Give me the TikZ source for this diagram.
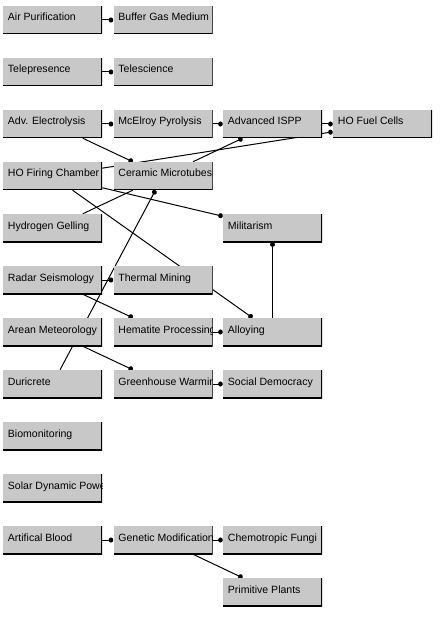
\documentclass[tikz,border=0pt]{standalone}
\usepackage{fontspec}
\newfontfamily\boxfont{Liberation Sans}
\usetikzlibrary{arrows.meta,backgrounds}
\definecolor{boxgray}{RGB}{200,200,200}
\newcommand{\bw}{74.25pt}
\newcommand{\bh}{21pt}

\begin{document}
\begin{tikzpicture}[x=0.75pt, y=-0.75pt,
  techbox/.style={rectangle, fill=boxgray, minimum width=\bw, minimum height=\bh, inner sep=0pt,
    path picture={
      \draw[line width=1.5pt] (path picture bounding box.north east) -- (path picture bounding box.south east) -- (path picture bounding box.south west);
      \node[anchor=base west, inner sep=0pt, minimum width=0pt, minimum height=0pt, fill=none, font=\boxfont\fontsize{7.9pt}{9pt}\selectfont] at ([xshift=3.5pt, yshift=-11.25pt]path picture bounding box.north west) {#1};
    }},
  link/.style={line width=0.75pt, -{Circle[length=3.4pt, width=3.8pt]}}]
    \useasboundingbox (0,0) rectangle (444,627);

    % First row
    \node[techbox={Air Purification}] (airpur) at (52.5,20) {};
    \node[techbox={Buffer Gas Medium}] (buffergas) at (163,20) {};

    \node[techbox={Telepresence}] (telepres) at (52.5,72) {};
    \node[techbox={Telescience}] (telesci) at (163,72) {};

    \node[techbox={Adv. Electrolysis}] (electro) at (52.5,124) {};
    \node[techbox={McElroy Pyrolysis}] (pyrolysis) at (163,124) {};
    \node[techbox={Advanced ISPP}] (ispp) at (272.5,124) {};
    \node[techbox={HO Fuel Cells}] (fuelcells) at (382.5,124) {};

    \node[techbox={HO Firing Chamber}] (firing) at (52.5,176) {};
    \node[techbox={Ceramic Microtubes}] (microtubes) at (163,176) {};

    \node[techbox={Hydrogen Gelling}] (gelling) at (52.5,228) {};
    \node[techbox={Militarism}] (militarism) at (272.5,228) {};

    \node[techbox={Radar Seismology}] (radar) at (52.5,280) {};
    \node[techbox={Thermal Mining}] (thermal) at (163,280) {};

    \node[techbox={Arean Meteorology}] (meteo) at (52.5,332) {};
    \node[techbox={Hematite Processing}] (hematite) at (163,332) {};
    \node[techbox={Alloying}] (alloying) at (272.5,332) {};

    \node[techbox={Duricrete}] (duricrete) at (52.5,384) {};
    \node[techbox={Greenhouse Warming}] (greenhouse) at (163,384) {};
    \node[techbox={Social Democracy}] (socdem) at (272.5,384) {};

    \node[techbox={Biomonitoring}] (biomon) at (52.5,436) {};

    \node[techbox={Solar Dynamic Power}] (solar) at (52.5,488) {};

    \node[techbox={Artifical Blood}] (blood) at (52.5,540) {};
    \node[techbox={Genetic Modification}] (genmod) at (163,540) {};
    \node[techbox={Chemotropic Fungi}] (fungi) at (272.5,540) {};

    \node[techbox={Primitive Plants}] (plants) at (272.5,592) {};

    % Links behind the boxes
    \begin{pgfonlayer}{background}
    \draw[link] (airpur) -- (buffergas);
    \draw[link] (telepres) -- (telesci);
    \draw[link] (electro) -- (pyrolysis);
    \draw[link] (pyrolysis) -- (ispp);
    \draw[link] (ispp) -- (fuelcells);
    \draw[link] (firing) -- (fuelcells);
    \draw[link] (electro) -- (microtubes);
    \draw[link] (microtubes) -- (ispp);
    \draw[link] (firing) -- (militarism);
    \draw[link] (firing) -- (alloying);
    \draw[link] (alloying) -- (militarism);
    \draw[link] (duricrete) -- (microtubes);
    \draw[line width=0.75pt] (gelling) -- (microtubes);
    \draw[link] (radar) -- (thermal);
    \draw[link] (radar) -- (hematite);
    \draw[link] (hematite) -- (alloying);
    \draw[link] (meteo) -- (greenhouse);
    \draw[link] (greenhouse) -- (socdem);
    \draw[link] (blood) -- (genmod);
    \draw[link] (genmod) -- (fungi);
    \draw[link] (genmod) -- (plants);
    \end{pgfonlayer}

\end{tikzpicture}
\end{document}
